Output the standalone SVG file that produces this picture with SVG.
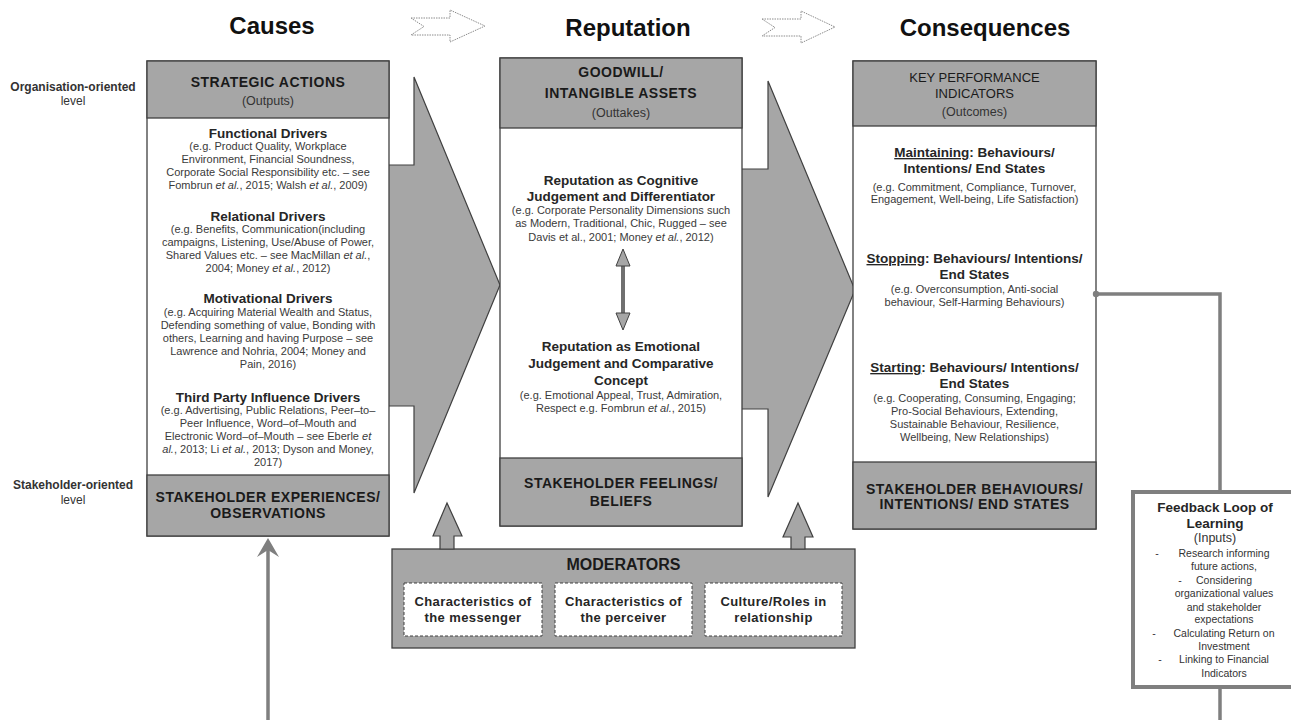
<svg xmlns="http://www.w3.org/2000/svg" width="1291" height="720" viewBox="0 0 1291 720">
<style>
text{font-family:"Liberation Sans",Arial,Helvetica,sans-serif;text-anchor:middle}
.title{font-size:24px;font-weight:bold;fill:#111}
.hb{font-size:14px;font-weight:bold;fill:#1a1a1a;letter-spacing:0.5px}
.hr{font-size:12.5px;fill:#333}
.kpi{font-size:13px;fill:#1a1a1a}
.sub{font-size:13.5px;font-weight:bold;fill:#262626}
.body{font-size:11px;fill:#3a3a3a}
.lvl{font-size:12px;fill:#333}
.fb{font-size:10.5px;fill:#333}
.mod{font-size:13px;font-weight:bold;fill:#262626;letter-spacing:0.4px}
.box{fill:#fff;stroke:#404040;stroke-width:1.3}
.band{fill:#a6a6a6;stroke:#404040;stroke-width:1.3}
.big{fill:#a6a6a6;stroke:#404040;stroke-width:1.2}
.hollow{fill:#fff;stroke:#8c8c8c;stroke-width:1;stroke-dasharray:1.5 1}
.dash{fill:#fff;stroke:#404040;stroke-width:1;stroke-dasharray:3 2}
.conn{fill:none;stroke:#7f7f7f;stroke-width:3.5}
</style>

<!-- Titles -->
<g id="titles">
  <text class="title" x="272" y="34">Causes</text>
  <text class="title" x="628" y="36">Reputation</text>
  <text class="title" x="985" y="36">Consequences</text>
  <polygon class="hollow" points="411,18 450,18 450,10 485,26 450,42 450,35 411,35 424,26.5"/>
  <polygon class="hollow" points="762,19 801,19 801,11 835,27 801,43 801,36 762,36 775,27.5"/>
</g>

<!-- Level labels -->
<g id="levels">
  <text class="lvl" x="73" y="91" font-weight="bold">Organisation-oriented</text>
  <text class="lvl" x="73" y="105">level</text>
  <text class="lvl" x="73" y="489" font-weight="bold">Stakeholder-oriented</text>
  <text class="lvl" x="73" y="504">level</text>
</g>

<!-- Large flow arrows (behind boxes) -->
<g id="flow-arrows">
  <polygon class="big" points="300,165 414,165 414,77 500,285 414,493 414,406 300,406"/>
  <polygon class="big" points="700,169 768,169 768,81 855,290 768,497 768,409 700,409"/>
</g>

<!-- Causes column -->
<g id="causes">
  <rect class="box" x="147" y="61" width="242" height="475"/>
  <rect class="band" x="147" y="61" width="242" height="57"/>
  <rect class="band" x="147" y="475" width="242" height="61"/>
  <text class="hb" x="268" y="87" letter-spacing="0.9">STRATEGIC ACTIONS</text>
  <text class="hr" x="268" y="105">(Outputs)</text>

  <text class="sub" x="268" y="138">Functional  Drivers</text>
  <text class="body" x="268" y="150">(e.g. Product Quality,  Workplace</text>
  <text class="body" x="268" y="163">Environment, Financial Soundness,</text>
  <text class="body" x="268" y="176">Corporate Social Responsibility etc. – see</text>
  <text class="body" x="268" y="189">Fombrun <tspan font-style="italic">et al.</tspan>, 2015; Walsh <tspan font-style="italic">et al.</tspan>, 2009)</text>

  <text class="sub" x="268" y="221">Relational Drivers</text>
  <text class="body" x="268" y="233">(e.g. Benefits, Communication(including</text>
  <text class="body" x="268" y="246">campaigns, Listening, Use/Abuse of Power,</text>
  <text class="body" x="268" y="259">Shared Values etc. – see MacMillan  <tspan font-style="italic">et al.</tspan>,</text>
  <text class="body" x="268" y="272">2004; Money <tspan font-style="italic">et al.</tspan>, 2012)</text>

  <text class="sub" x="268" y="303">Motivational Drivers</text>
  <text class="body" x="268" y="316">(e.g. Acquiring Material Wealth and Status,</text>
  <text class="body" x="268" y="329">Defending something of value, Bonding with</text>
  <text class="body" x="268" y="342">others, Learning and having Purpose – see</text>
  <text class="body" x="268" y="355">Lawrence and Nohria, 2004; Money and</text>
  <text class="body" x="268" y="368">Pain, 2016)</text>

  <text class="sub" x="268" y="402">Third Party Influence Drivers</text>
  <text class="body" x="268" y="414">(e.g. Advertising, Public Relations, Peer–to–</text>
  <text class="body" x="268" y="427">Peer Influence, Word–of–Mouth and</text>
  <text class="body" x="268" y="440">Electronic Word–of–Mouth – see Eberle <tspan font-style="italic">et</tspan></text>
  <text class="body" x="268" y="453"><tspan font-style="italic">al.</tspan>, 2013; Li <tspan font-style="italic">et al.</tspan>, 2013; Dyson and Money,</text>
  <text class="body" x="268" y="466">2017)</text>

  <text class="hb" x="268" y="502" letter-spacing="0.3">STAKEHOLDER EXPERIENCES/</text>
  <text class="hb" x="268" y="518">OBSERVATIONS</text>
</g>

<!-- Reputation column -->
<g id="reputation">
  <rect class="box" x="500" y="58" width="242" height="468"/>
  <rect class="band" x="500" y="58" width="242" height="70"/>
  <rect class="band" x="500" y="458" width="242" height="68"/>
  <text class="hb" x="621" y="77">GOODWILL/</text>
  <text class="hb" x="621" y="98">INTANGIBLE ASSETS</text>
  <text class="hr" x="621" y="117">(Outtakes)</text>

  <text class="sub" x="621" y="185">Reputation as Cognitive</text>
  <text class="sub" x="621" y="201">Judgement and Differentiator</text>
  <text class="body" x="621" y="214">(e.g. Corporate Personality Dimensions such</text>
  <text class="body" x="621" y="227">as Modern, Traditional, Chic, Rugged – see</text>
  <text class="body" x="621" y="241">Davis et al., 2001; Money <tspan font-style="italic">et al.</tspan>, 2012)</text>

  <text class="sub" x="621" y="351">Reputation as Emotional</text>
  <text class="sub" x="621" y="368">Judgement and Comparative</text>
  <text class="sub" x="621" y="385">Concept</text>
  <text class="body" x="621" y="399">(e.g. Emotional  Appeal, Trust, Admiration,</text>
  <text class="body" x="621" y="412">Respect e.g. Fombrun <tspan font-style="italic">et al.</tspan>, 2015)</text>

  <text class="hb" x="621" y="488" letter-spacing="1">STAKEHOLDER FEELINGS/</text>
  <text class="hb" x="621" y="506" letter-spacing="1">BELIEFS</text>
</g>

<!-- Consequences column -->
<g id="consequences">
  <rect class="box" x="853" y="61" width="243" height="468"/>
  <rect class="band" x="853" y="61" width="243" height="65"/>
  <rect class="band" x="853" y="462" width="243" height="67"/>
  <text class="kpi" x="974.5" y="82">KEY PERFORMANCE</text>
  <text class="kpi" x="974.5" y="98">INDICATORS</text>
  <text class="hr" x="974.5" y="116">(Outcomes)</text>

  <text class="sub" x="974.5" y="157"><tspan text-decoration="underline">Maintaining</tspan>: Behaviours/</text>
  <text class="sub" x="974.5" y="173">Intentions/ End States</text>
  <text class="body" x="974.5" y="191">(e.g. Commitment,  Compliance, Turnover,</text>
  <text class="body" x="974.5" y="203">Engagement,  Well-being, Life Satisfaction)</text>

  <text class="sub" x="974.5" y="263"><tspan text-decoration="underline">Stopping</tspan>: Behaviours/ Intentions/</text>
  <text class="sub" x="974.5" y="279">End States</text>
  <text class="body" x="974.5" y="293">(e.g. Overconsumption, Anti-social</text>
  <text class="body" x="974.5" y="306">behaviour, Self-Harming Behaviours)</text>

  <text class="sub" x="974.5" y="372"><tspan text-decoration="underline">Starting</tspan>: Behaviours/ Intentions/</text>
  <text class="sub" x="974.5" y="388">End States</text>
  <text class="body" x="974.5" y="402">(e.g. Cooperating,  Consuming,  Engaging;</text>
  <text class="body" x="974.5" y="415">Pro-Social Behaviours, Extending,</text>
  <text class="body" x="974.5" y="428">Sustainable Behaviour, Resilience,</text>
  <text class="body" x="974.5" y="441">Wellbeing,  New Relationships)</text>

  <text class="hb" x="974.5" y="494" letter-spacing="0.4">STAKEHOLDER BEHAVIOURS/</text>
  <text class="hb" x="974.5" y="509">INTENTIONS/ END STATES</text>
</g>

<!-- Moderators -->
<g id="moderators">
  <rect class="band" x="392" y="549" width="463" height="99"/>
  <text x="623.5" y="570" font-size="16" font-weight="bold" fill="#1a1a1a">MODERATORS</text>
  <rect class="dash" x="404" y="583" width="138" height="53"/>
  <rect class="dash" x="555" y="583" width="137" height="53"/>
  <rect class="dash" x="705" y="583" width="137" height="53"/>
  <text class="mod" x="473" y="606">Characteristics of</text>
  <text class="mod" x="473" y="622">the messenger</text>
  <text class="mod" x="623.5" y="606">Characteristics of</text>
  <text class="mod" x="623.5" y="622">the perceiver</text>
  <text class="mod" x="773.5" y="606">Culture/Roles in</text>
  <text class="mod" x="773.5" y="622">relationship</text>
</g>

<!-- Feedback loop -->
<g id="feedback">
  <rect x="1133" y="492" width="165" height="195" fill="#fff" stroke="#7f7f7f" stroke-width="4"/>
  <text class="sub" x="1215" y="512">Feedback Loop of</text>
  <text class="sub" x="1215" y="528">Learning</text>
  <text class="hr" x="1215" y="542" font-size="12">(Inputs)</text>
  <text class="fb" x="1157" y="557">-</text>
  <text class="fb" x="1224" y="557">Research informing</text>
  <text class="fb" x="1224" y="570">future actions,</text>
  <text class="fb" x="1180" y="584">-</text>
  <text class="fb" x="1224" y="584">Considering</text>
  <text class="fb" x="1224" y="597">organizational values</text>
  <text class="fb" x="1224" y="611">and stakeholder</text>
  <text class="fb" x="1224" y="623">expectations</text>
  <text class="fb" x="1154" y="637">-</text>
  <text class="fb" x="1224" y="637">Calculating Return on</text>
  <text class="fb" x="1224" y="650">Investment</text>
  <text class="fb" x="1160" y="663">-</text>
  <text class="fb" x="1224" y="663">Linking to Financial</text>
  <text class="fb" x="1224" y="677">Indicators</text>
</g>

<!-- Connectors -->
<g id="connectors">
  <line x1="623" y1="262" x2="623" y2="317" stroke="#707070" stroke-width="4"/>
  <polygon points="623,249 630,266 616,266" fill="#a6a6a6" stroke="#404040" stroke-width="1"/>
  <polygon points="623,330 630,313 616,313" fill="#a6a6a6" stroke="#404040" stroke-width="1"/>
  <polygon class="big" points="440,549 440,536 433,536 447,503 462,536 454,536 454,549"/>
  <polygon class="big" points="791,549 791,537 783,537 798,503 813,537 805,537 805,549"/>
  <polyline class="conn" points="1096,294 1220,294 1220,492"/>
  <circle cx="1096" cy="294" r="3.2" fill="#7f7f7f"/>
  <line class="conn" x1="1220" y1="687" x2="1220" y2="720"/>
  <line class="conn" x1="268" y1="720" x2="268" y2="548" stroke-width="3"/>
  <polygon points="268,538 279,557 268,550 257,557" fill="#7f7f7f"/>
</g>
</svg>
